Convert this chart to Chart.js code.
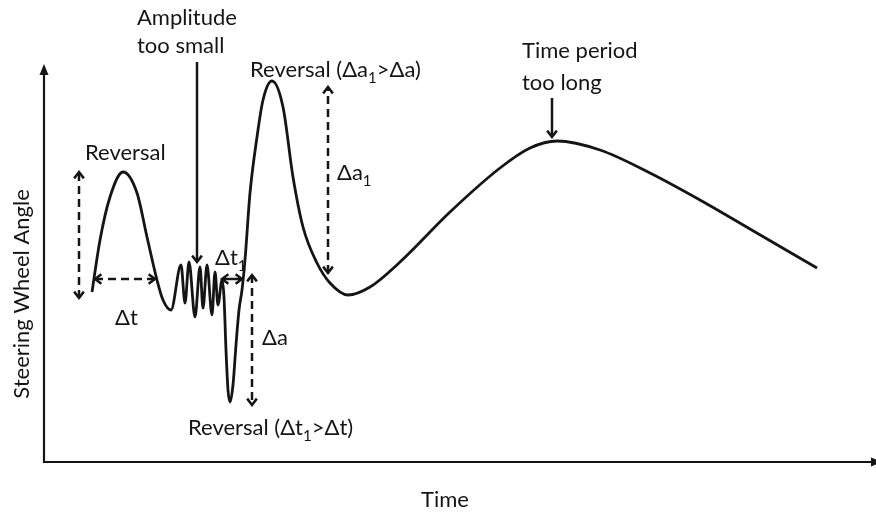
<!DOCTYPE html>
<html>
<head>
<meta charset="utf-8">
<script src="https://cdn.jsdelivr.net/npm/chart.js@4.4.1/dist/chart.umd.min.js"></script>
<style>
  html, body { margin: 0; padding: 0; background: #fff; }
  canvas { display: block; }
</style>
</head>
<body>
<canvas id="steerChart" width="876" height="515"></canvas>
<script>
// steering trace (arbitrary time / angle units)
const timeValues = [48, 56, 66, 79, 93, 103, 113, 119, 127,
  137, 141, 145, 151, 156, 159, 163, 168, 171, 174, 178, 180,
  182, 184, 186, 189, 192, 195, 198, 201, 206, 213, 219, 228,
  239, 249, 259, 273, 286, 304, 326, 356, 406, 456, 486, 513,
  556, 606, 656, 706, 773];
const angleValues = [170, 222, 265, 290, 269, 225, 182, 162, 152,
  197, 159, 200, 145, 195, 154, 197, 147, 190, 157, 182, 165,
  112, 72, 60, 77, 117, 152, 172, 202, 269, 325, 362, 381,
  355, 285, 235, 199, 179, 167, 175, 200, 250, 294, 314, 321,
  312, 289, 262, 233, 194];

const xTitle = "Time";
const yTitle = "Steering Wheel Angle";

// notes, "_1" means a subscript 1
const noteTexts = ["Amplitude", "too small", "Reversal", "Δt", "Δt_1", "Δa",
  "Reversal (Δt_1>Δt)", "Reversal (Δa_1>Δa)", "Δa_1", "Time period", "too long"];
const noteTimes = [93, 93, 41, 71, 171, 218, 144, 206, 293, 478, 478];
const noteAngles = [437, 409, 302, 137, 197, 117, 27, 385, 282, 404, 372];

// arrows: [t1, a1, t2, a2] with the head at t2/a2 (both ends if twoHeads)
const arrowLines = [
  [35, 164, 35, 290], [51, 183, 111, 183], [178, 183, 198, 183],
  [208, 187, 208, 57], [284, 189, 284, 375],
  [153, 400, 153, 200], [508, 364, 508, 325],
];
const arrowDashed = [true, true, false, true, true, false, false];
const arrowTwoHeads = [true, true, true, true, true, false, false];

const mainFont = "22px Lato, 'Open Sans', sans-serif";
const subFont = "15px Lato, 'Open Sans', sans-serif";
const ink = "#151515";

const drawHead = (ctx, x, y, fromX, fromY) => {
  const ang = Math.atan2(y - fromY, x - fromX);
  const len = 8;
  ctx.setLineDash([]);
  ctx.beginPath();
  ctx.moveTo(x - len * Math.cos(ang - 0.65), y - len * Math.sin(ang - 0.65));
  ctx.lineTo(x, y);
  ctx.lineTo(x - len * Math.cos(ang + 0.65), y - len * Math.sin(ang + 0.65));
  ctx.stroke();
};

const drawRich = (ctx, str, x, y) => {
  const parts = str.split(/_(\d)/);
  let cx = x;
  parts.forEach((p, i) => {
    const isSub = i % 2 === 1;
    ctx.font = isSub ? subFont : mainFont;
    ctx.fillText(p, cx, isSub ? y + 6 : y);
    cx += ctx.measureText(p).width;
  });
};

const sketchPlugin = {
  id: "sketch",
  afterDraw(chart) {
    const { ctx, chartArea: area } = chart;
    const sx = chart.scales.x, sy = chart.scales.y;
    ctx.save();
    ctx.strokeStyle = ink;
    ctx.fillStyle = ink;

    // axes with arrow tips
    ctx.lineWidth = 2.2;
    ctx.beginPath();
    ctx.moveTo(area.left, area.top + 6);
    ctx.lineTo(area.left, area.bottom);
    ctx.lineTo(area.right, area.bottom);
    ctx.stroke();
    ctx.beginPath();
    ctx.moveTo(area.left, area.top);
    ctx.lineTo(area.left - 4.5, area.top + 11);
    ctx.lineTo(area.left + 4.5, area.top + 11);
    ctx.closePath();
    ctx.fill();
    ctx.beginPath();
    ctx.moveTo(area.right + 6, area.bottom);
    ctx.lineTo(area.right - 5, area.bottom - 4.5);
    ctx.lineTo(area.right - 5, area.bottom + 4.5);
    ctx.closePath();
    ctx.fill();

    // axis titles
    ctx.font = mainFont;
    ctx.textAlign = "center";
    ctx.textBaseline = "middle";
    ctx.fillText(xTitle, 445, 500);
    ctx.save();
    ctx.translate(22, 294);
    ctx.rotate(-Math.PI / 2);
    ctx.fillText(yTitle, 0, 0);
    ctx.restore();

    // arrows
    arrowLines.forEach((a, i) => {
      const x1 = sx.getPixelForValue(a[0]), y1 = sy.getPixelForValue(a[1]);
      const x2 = sx.getPixelForValue(a[2]), y2 = sy.getPixelForValue(a[3]);
      ctx.lineWidth = 2.5;
      ctx.setLineDash(arrowDashed[i] ? [8, 5] : []);
      ctx.beginPath();
      ctx.moveTo(x1, y1);
      ctx.lineTo(x2, y2);
      ctx.stroke();
      drawHead(ctx, x2, y2, x1, y1);
      if (arrowTwoHeads[i]) drawHead(ctx, x1, y1, x2, y2);
    });

    // notes
    ctx.textAlign = "left";
    ctx.textBaseline = "alphabetic";
    noteTexts.forEach((t, i) => {
      drawRich(ctx, t, sx.getPixelForValue(noteTimes[i]), sy.getPixelForValue(noteAngles[i]));
    });
    ctx.restore();
  },
};

new Chart(document.getElementById("steerChart"), {
  type: "line",
  data: {
    datasets: [{
      data: timeValues.map((t, i) => ({ x: t, y: angleValues[i] })),
      borderColor: ink,
      borderWidth: 2.8,
      pointRadius: 0,
      cubicInterpolationMode: "monotone",
      fill: false,
      clip: false,
    }],
  },
  plugins: [sketchPlugin],
  options: {
    responsive: false,
    animation: false,
    layout: { padding: { left: 44, right: 0, top: 64, bottom: 53 } },
    plugins: {
      legend: { display: false },
      tooltip: { enabled: false },
    },
    scales: {
      x: { type: "linear", display: false, min: 0, max: 832 },
      y: { type: "linear", display: false, min: 0, max: 398 },
    },
  },
});
</script>
</body>
</html>
